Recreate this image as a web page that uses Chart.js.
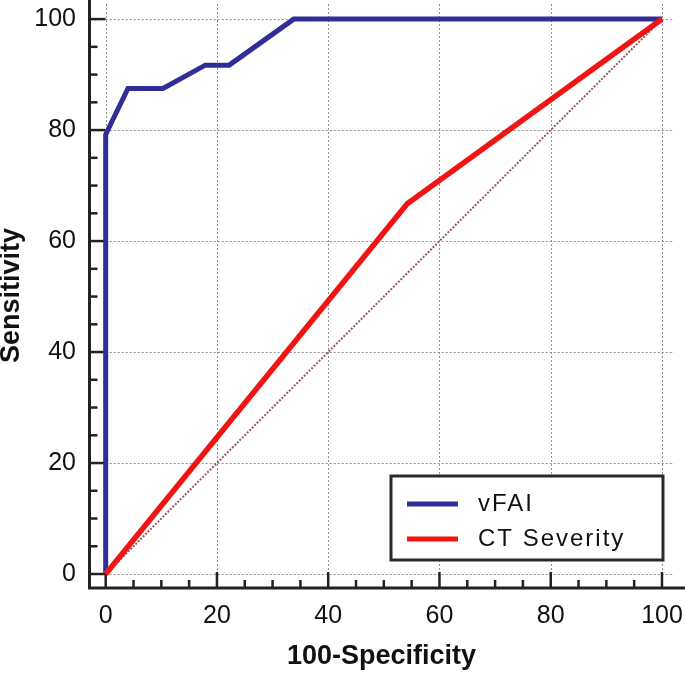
<!DOCTYPE html>
<html>
<head>
<meta charset="utf-8">
<script src="https://cdn.jsdelivr.net/npm/chart.js@4.4.0/dist/chart.umd.min.js"></script>
<style>
  body { margin: 0; background: #fff; }
  #wrap { width: 685px; height: 673px; position: relative; }
</style>
</head>
<body>
<div id="wrap"><canvas id="roc"></canvas></div>
<script>
// ROC curve points (100-Specificity, Sensitivity)
const vfaiX = [0, 0, 4, 10.3, 17.9, 22.2, 33.8, 100];
const vfaiY = [0, 79.2, 87.5, 87.5, 91.7, 91.7, 100, 100];
const ctX = [0, 54.2, 100];
const ctY = [0, 66.7, 100];
const refX = [0, 100];
const refY = [0, 100];

const majorTicks = [0, 20, 40, 60, 80, 100];
const minorTicks = [5, 10, 15, 25, 30, 35, 45, 50, 55, 65, 70, 75, 85, 90, 95];

const FONT = "'Liberation Sans', Arial, sans-serif";
const pts = (xs, ys) => xs.map((x, i) => ({ x: x, y: ys[i] }));

// no extra room for labels hanging over the edges
const noPad = (s) => { s.paddingTop = s.paddingBottom = s.paddingLeft = s.paddingRight = 0; };

// grid, axis lines and inward ticks
const rocAxes = {
  id: "rocAxes",
  beforeDatasetsDraw(chart) {
    const { ctx, chartArea } = chart;
    const xs = chart.scales.x, ys = chart.scales.y;
    const x0 = xs.getPixelForValue(0), y0 = ys.getPixelForValue(0);
    ctx.save();
    ctx.strokeStyle = "#8f8f8f";
    ctx.lineWidth = 1;
    ctx.setLineDash([2, 2]);
    majorTicks.forEach((v) => {
      const px = Math.round(xs.getPixelForValue(v)) + 0.5;
      ctx.beginPath();
      ctx.moveTo(px, y0);
      ctx.lineTo(px, chartArea.top);
      ctx.stroke();
      const py = Math.round(ys.getPixelForValue(v)) + 0.5;
      ctx.beginPath();
      ctx.moveTo(x0, py);
      ctx.lineTo(chartArea.right, py);
      ctx.stroke();
    });
    ctx.setLineDash([]);
    ctx.strokeStyle = "#222";
    ctx.lineWidth = 3;
    const left = chartArea.left + 0.5, bottom = chartArea.bottom;
    ctx.beginPath();
    ctx.moveTo(left, 0);
    ctx.lineTo(left, bottom + 1.5);
    ctx.moveTo(left - 1.5, bottom);
    ctx.lineTo(chart.width, bottom);
    ctx.stroke();
    ctx.lineWidth = 2.5;
    const tick = (v, len) => {
      const py = ys.getPixelForValue(v);
      ctx.beginPath();
      ctx.moveTo(left, py);
      ctx.lineTo(left + len, py);
      ctx.stroke();
      const px = xs.getPixelForValue(v);
      ctx.beginPath();
      ctx.moveTo(px, bottom);
      ctx.lineTo(px, bottom - len);
      ctx.stroke();
    };
    majorTicks.forEach((v) => tick(v, 16));
    minorTicks.forEach((v) => tick(v, 8));
    ctx.restore();
  },
  afterDraw(chart) {
    const { ctx } = chart;
    const bx = 391, by = 476, bw = 272, bh = 84;
    ctx.save();
    ctx.fillStyle = "#fff";
    ctx.fillRect(bx, by, bw, bh);
    ctx.strokeStyle = "#2a2a2a";
    ctx.lineWidth = 3;
    ctx.strokeRect(bx, by, bw, bh);
    const items = chart.data.datasets.filter((d) => d.label);
    items.forEach((d, i) => {
      const y = by + 28 + i * 35;
      ctx.strokeStyle = d.borderColor;
      ctx.lineWidth = 5;
      ctx.beginPath();
      ctx.moveTo(bx + 16, y);
      ctx.lineTo(bx + 67, y);
      ctx.stroke();
      ctx.fillStyle = "#111";
      ctx.font = "24px " + FONT;
      ctx.letterSpacing = "2px";
      ctx.textBaseline = "middle";
      ctx.fillText(d.label, bx + 87, y);
    });
    ctx.restore();
  },
};

new Chart(document.getElementById("roc"), {
  type: "scatter",
  data: {
    datasets: [
      {
        label: "vFAI",
        data: pts(vfaiX, vfaiY),
        showLine: true,
        borderColor: "#2e2e96",
        borderWidth: 5,
        pointRadius: 0,
        order: 1,
      },
      {
        label: "CT Severity",
        data: pts(ctX, ctY),
        showLine: true,
        borderColor: "#f01414",
        borderWidth: 5.5,
        pointRadius: 0,
        order: 0,
      },
      {
        label: "",
        data: pts(refX, refY),
        showLine: true,
        borderColor: "rgba(140,70,85,0.9)",
        borderWidth: 2,
        borderDash: [2, 1.5],
        pointRadius: 0,
        order: 2,
      },
    ],
  },
  options: {
    responsive: true,
    maintainAspectRatio: false,
    animation: false,
    layout: { padding: { top: 3, right: 11, left: 0, bottom: 0 } },
    plugins: { legend: { display: false }, tooltip: { enabled: false } },
    scales: {
      x: {
        type: "linear",
        min: -3.0,
        max: 102.16,
        afterBuildTicks: (s) => { s.ticks = majorTicks.map((v) => ({ value: v })); },
        afterFit: (s) => { s.height = 85; noPad(s); },
        grid: { display: false, drawTicks: false },
        border: { display: false },
        ticks: { color: "#111", font: { family: FONT, size: 25 }, padding: 13, maxRotation: 0 },
        title: {
          display: true,
          text: "100-Specificity",
          color: "#111",
          font: { family: FONT, size: 27, weight: "bold", lineHeight: 1 },
          padding: { top: 0, bottom: 3 },
        },
      },
      y: {
        type: "linear",
        min: -2.52,
        max: 102.9,
        afterBuildTicks: (s) => { s.ticks = majorTicks.map((v) => ({ value: v })); },
        afterFit: (s) => { s.width = 89; noPad(s); },
        grid: { display: false, drawTicks: false },
        border: { display: false },
        ticks: { color: "#111", font: { family: FONT, size: 25 }, padding: 13 },
        title: {
          display: true,
          text: "Sensitivity",
          color: "#111",
          font: { family: FONT, size: 27, weight: "bold", lineHeight: 0.85 },
          padding: { top: 0, bottom: 0 },
        },
      },
    },
  },
  plugins: [rocAxes],
});
</script>
</body>
</html>
